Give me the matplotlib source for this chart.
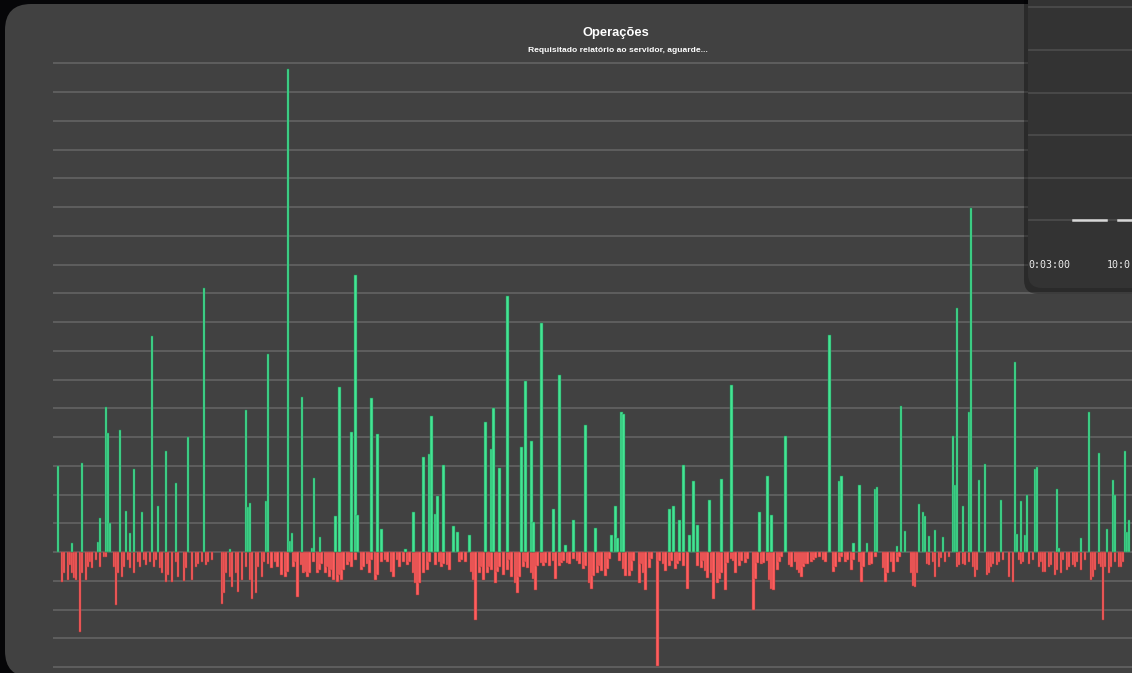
import matplotlib

matplotlib.use("Agg")
import matplotlib.pyplot as plt
from matplotlib.lines import Line2D
from matplotlib.patches import FancyBboxPatch
from matplotlib.transforms import IdentityTransform

# minute index of each bar (one slot per minute) and its volume
buy_minute = [
    2, 9, 14, 22, 23, 26, 27, 28, 33, 36,
    38, 40, 44, 49, 52, 56, 61, 67, 75, 88,
    96, 97, 98, 106, 107, 117, 118, 119, 124, 129,
    130, 133, 141, 143, 149, 151, 152, 159, 162, 164,
    176, 180, 185, 188, 189, 191, 192, 195, 200, 202,
    208, 216, 219, 220, 223, 227, 234, 236, 239, 240,
    244, 250, 253, 256, 260, 266, 271, 279, 281, 282,
    284, 285, 308, 310, 313, 315, 318, 320, 322, 328,
    334, 339, 353, 357, 359, 366, 388, 393, 394, 400,
    403, 407, 411, 412, 422, 424, 426, 433, 435, 436,
    438, 441, 445, 450, 451, 452, 455, 458, 459, 463,
    466, 474, 481, 482, 484, 486, 487, 491, 492, 502,
    503, 514, 518, 523, 527, 530, 531, 536, 537, 538,
]
buy_volume = [
    3.0, 0.3, 3.1, 0.35, 1.2, 5.05, 4.15, 1.0, 4.25, 1.43,
    0.65, 2.9, 1.4, 7.5, 1.6, 3.5, 2.4, 4.0, 9.2, 0.1,
    4.95, 1.57, 1.7, 1.77, 6.9, 16.8, 0.4, 0.66, 5.4, 0.15,
    2.58, 0.52, 1.25, 5.73, 4.18, 9.65, 1.29, 5.37, 4.1, 0.8,
    0.1, 1.4, 3.29, 3.4, 4.74, 1.32, 1.95, 3.03, 0.9, 0.7,
    0.6, 4.53, 3.6, 5.02, 2.93, 8.9, 3.66, 5.95, 3.87, 1.05,
    7.95, 1.5, 6.15, 0.25, 1.1, 4.42, 0.85, 0.58, 1.6, 0.5,
    4.88, 4.8, 1.5, 1.6, 1.1, 3.03, 0.6, 2.47, 0.93, 1.82,
    2.55, 5.82, 1.4, 2.65, 1.29, 4.03, 7.55, 2.47, 2.65, 0.3,
    2.33, 0.3, 2.2, 2.26, 0.2, 5.08, 0.73, 1.67, 1.4, 1.25,
    0.56, 0.76, 0.52, 4.03, 2.33, 8.5, 1.6, 4.88, 11.95, 2.5,
    3.07, 1.82, 6.6, 0.63, 1.78, 0.6, 2.0, 2.9, 2.95, 2.2,
    0.15, 0.5, 4.88, 3.45, 0.8, 2.5, 2.0, 3.52, 0.7, 1.1,
]

sell_minute = [
    4, 5, 7, 8, 9, 10, 11, 13, 14, 16,
    17, 18, 19, 21, 23, 25, 26, 30, 31, 32,
    34, 35, 37, 38, 40, 42, 43, 45, 46, 48,
    50, 51, 53, 54, 56, 57, 59, 61, 62, 65,
    66, 69, 71, 72, 74, 76, 77, 79, 84, 85,
    86, 88, 89, 91, 92, 94, 96, 98, 99, 101,
    102, 104, 105, 107, 109, 111, 112, 114, 116, 117,
    120, 121,
    122, 124, 125, 126, 127, 128, 130, 132, 133, 134,
    136, 137, 138, 139, 140, 142, 143, 144, 145, 147,
    148, 149, 151, 154, 155, 157, 158, 159, 161, 162,
    164, 166, 167, 169, 170, 172, 173, 175, 177, 178,
    180, 181, 182, 183, 185, 187, 188, 191, 193, 194,
    195, 197, 198, 203, 204, 206, 209, 210, 211, 213,
    214, 215, 217, 218, 219, 221, 222, 223, 225, 227,
    228, 229, 231, 232, 233, 235, 236,
    237, 239, 240, 241, 242, 244, 245, 246, 248, 250,
    251, 253, 254, 255, 257, 258, 260, 262, 263, 265,
    266, 268, 269, 270, 272, 273, 274, 276, 277, 278,
    283, 285, 286, 288, 289, 290, 293, 294, 295, 296,
    298, 299, 302, 303, 305, 306, 308, 309, 311, 312,
    313, 315, 317, 322, 324, 325, 326, 327, 329, 330,
    332, 333, 334, 336, 337, 339, 340, 341, 343, 344,
    346, 347, 350, 351, 352, 354, 355, 357,
    358, 359, 360, 362, 363, 364, 368, 369, 371, 372,
    373, 374, 375, 376, 377, 379, 380, 381, 383, 385,
    386, 390, 391, 393, 394, 396, 397, 399, 400, 403,
    404, 405, 408, 409, 411, 415, 416, 417, 419, 420,
    422, 423, 429, 430, 431, 432, 437, 438, 440, 441,
    443, 444, 446, 448,
    452, 453, 455, 456, 458, 460, 461, 462, 467, 468,
    469, 470, 472, 473, 475, 478, 480, 483, 484, 485,
    488, 490, 493, 494, 495, 496, 498, 499, 501, 502,
    504, 505, 507, 508, 510, 511, 512, 514, 516, 519,
    520, 521, 523, 524, 525, 526, 528, 529, 531, 533,
    534, 535,
]
sell_volume = [
    1.03, 0.74, 0.98, 0.45, 0.74, 0.92, 0.98, 2.78, 0.74, 0.98,
    0.51, 0.34, 0.57, 0.28, 0.51, 0.16, 0.16, 0.51, 1.85, 0.74,
    0.86, 0.51, 0.28, 0.57, 0.74, 0.34, 0.51, 0.28, 0.45, 0.34,
    0.51, 0.28, 0.57, 0.74, 1.03, 0.8, 1.05, 0.34, 0.86, 1.02,
    0.57, 0.98, 0.51, 0.4, 0.34, 0.45, 0.34, 0.28, 1.81, 1.44,
    0.74, 0.86, 1.21, 0.74, 1.38, 0.98, 0.51, 0.98, 1.65, 1.44,
    0.51, 0.86, 0.34, 0.4, 0.57, 0.34, 0.51, 0.8, 0.86, 0.69,
    0.51, 0.34,
    1.58, 0.45, 0.74, 0.69, 0.86, 0.74, 0.34, 0.74, 0.63, 0.4,
    0.74, 0.51, 0.86, 0.63, 0.98, 1.06, 0.8, 0.98, 0.63, 0.45,
    0.34, 0.51, 0.28, 0.63, 0.51, 0.4, 0.74, 0.28, 0.98, 0.8,
    0.34, 0.28, 0.34, 0.69, 0.86, 0.28, 0.51, 0.34, 0.45, 0.34,
    0.74, 1.09, 1.5, 1.09, 0.74, 0.63, 0.34, 0.45, 0.34, 0.51,
    0.4, 0.45, 0.63, 0.34, 0.28, 0.34, 0.69, 0.98, 2.35, 0.74,
    0.51, 0.98, 0.74, 0.51, 0.63, 1.09, 0.69, 0.51, 0.8, 0.63,
    0.28, 0.86, 1.09, 1.44, 0.86, 0.51, 0.34,
    0.55, 0.72, 0.95, 1.33, 0.49, 0.37, 0.49, 0.37, 0.49, 0.31,
    0.95, 0.49, 0.37, 0.31, 0.37, 0.43, 0.26, 0.31, 0.43, 0.6,
    0.49, 1.07, 1.28, 0.84, 0.72, 0.49, 0.66, 0.84, 0.6, 0.26,
    0.31, 0.6, 0.84, 0.84, 0.66, 0.31, 1.07, 0.43, 0.72, 1.33,
    0.55, 0.26, 3.98, 0.31, 0.43, 0.66, 0.49, 0.31, 0.6, 0.43,
    0.31, 0.49, 1.28, 0.49, 0.55, 0.31, 0.66, 0.9, 0.72, 1.65,
    1.07, 0.95, 0.72, 1.33, 0.37, 0.26, 0.31, 0.72, 0.49, 0.31,
    0.37, 0.26, 2.0, 0.95, 0.37, 0.43, 0.37, 0.31,
    0.98, 1.27, 1.33, 0.63, 0.34, 0.16, 0.45, 0.51, 0.34, 0.63,
    0.74, 0.86, 0.51, 0.4, 0.4, 0.34, 0.28, 0.22, 0.16, 0.28,
    0.34, 0.69, 0.51, 0.34, 0.16, 0.34, 0.28, 0.63, 0.28, 0.34,
    1.03, 0.51, 0.45, 0.4, 0.16, 0.57, 1.03, 0.74, 0.34, 0.69,
    0.34, 0.16, 0.74, 1.19, 1.21, 0.74, 0.4, 0.45, 0.34, 0.86,
    0.51, 0.22, 0.34, 0.16,
    0.51, 0.45, 0.4, 0.45, 0.34, 0.51, 0.86, 0.63, 0.8, 0.74,
    0.51, 0.4, 0.45, 0.34, 0.28, 0.86, 1.03, 0.28, 0.4, 0.34,
    0.4, 0.28, 0.51, 0.34, 0.69, 0.69, 0.51, 0.45, 0.8, 0.63,
    0.74, 0.28, 0.63, 0.51, 0.45, 0.51, 0.34, 0.63, 0.28, 0.98,
    0.86, 0.63, 0.4, 0.51, 2.37, 0.51, 0.74, 0.51, 0.34, 0.51,
    0.51, 0.34,
]

popup_labels = ["0:03:00", "10:0"]

TITLE = "Operações"
SUBTITLE = "Requisitado relatório ao servidor, aguarde..."

W, H = 1132, 673
fig = plt.figure(figsize=(W / 100, H / 100), dpi=100)
fig.patch.set_facecolor("#060608")
px = IdentityTransform()

# main dark panel (pixel coords, origin bottom-left)
panel = FancyBboxPatch(
    (5, -4), 1200, H,
    boxstyle="round,pad=0,rounding_size=26",
    transform=px, facecolor="#414141", edgecolor="none", zorder=-5,
)
fig.add_artist(panel)

# axes: baseline at y=552 px, one grid step = 28.75 px
ymin, ymax = -4.2, 17.1
step = 28.75
bottom_px = 552 + (-ymin) * step
top_px = 552 - ymax * step
ax = fig.add_axes((53 / W, (H - bottom_px) / H, (W - 53) / W, (bottom_px - top_px) / H))
ax.set_facecolor("none")
ax.set_xlim(-0.5, 539.5)
ax.set_ylim(ymin, ymax)
ax.set_yticks(range(-4, 18))
ax.yaxis.grid(True, color="#5e5e5e", linewidth=1.4)
ax.set_axisbelow(True)
ax.tick_params(left=False, bottom=False, labelleft=False, labelbottom=False)
ax.set_xticks([])
for s in ax.spines.values():
    s.set_visible(False)

ax.bar(sell_minute, [-v for v in sell_volume], width=1.3, color="#ff5e5e",
       edgecolor="#a33535", linewidth=0.35)
ax.bar(buy_minute, buy_volume, width=1.25, color="#44e493",
       edgecolor="#238552", linewidth=0.35)

fig.text(616 / W, 1 - 33 / H, TITLE, ha="center", va="center", color="white",
         fontsize=9.3, fontweight="bold", family="Liberation Sans")
fig.text(618 / W, 1 - 51 / H, SUBTITLE, ha="center", va="center", color="white",
         fontsize=6.1, fontweight="bold", family="Liberation Sans")

# popup window overlapping the top right corner
shadow = FancyBboxPatch((1024, H - 294), 300, 400, boxstyle="round,pad=0,rounding_size=14",
                        transform=px, facecolor="black", alpha=0.35, edgecolor="none", zorder=4)
popup = FancyBboxPatch((1028, H - 288), 300, 400, boxstyle="round,pad=0,rounding_size=14",
                       transform=px, facecolor="#333333", edgecolor="none", zorder=5)
fig.add_artist(shadow)
fig.add_artist(popup)
for yy in [6.7, 50, 93.3, 135, 178.3, 220]:
    fig.add_artist(Line2D([1029, W], [H - yy, H - yy], transform=px,
                          color="#4b4b4b", linewidth=1.3, zorder=6))
for x0, x1 in [(1072.7, 1106), (1118, W)]:
    fig.add_artist(Line2D([x0, x1], [H - 220, H - 220], transform=px,
                          color="#d8d8d8", linewidth=1.8, zorder=7))
for xx, lab in zip([1028, 1107], popup_labels):
    fig.text(xx / W, 1 - 265 / H, lab, ha="left", va="center", color="#ececec",
             fontsize=7.2, family="DejaVu Sans Mono", zorder=8)

fig.savefig("out.png", dpi=100, facecolor=fig.get_facecolor())
